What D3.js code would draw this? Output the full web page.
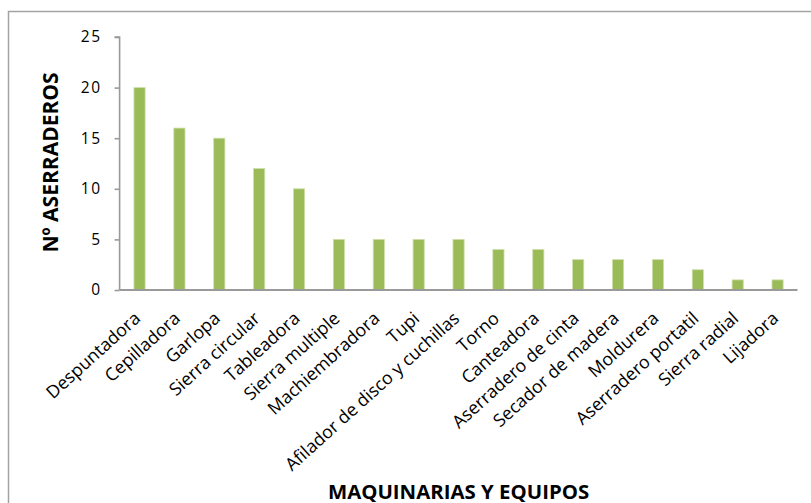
<!DOCTYPE html>
<html>
<head>
<meta charset="utf-8">
<script src="https://cdn.jsdelivr.net/npm/d3@7"></script>
<style>
  body { margin: 0; background: #fff; }
  svg text { font-family: "Open Sans", sans-serif; fill: #000; }
</style>
</head>
<body>
<div id="vis"></div>
<script>
// data
var categories = ["Despuntadora", "Cepilladora", "Garlopa", "Sierra circular", "Tableadora",
  "Sierra multiple", "Machiembradora", "Tupi", "Afilador de disco y cuchillas", "Torno",
  "Canteadora", "Aserradero de cinta", "Secador de madera", "Moldurera",
  "Aserradero portatil", "Sierra radial", "Lijadora"];
var values = [20, 16, 15, 12, 10, 5, 5, 5, 5, 4, 4, 3, 3, 3, 2, 1, 1];
var yTicks = [0, 5, 10, 15, 20, 25];

var W = 811, H = 503;
var margin = {top: 37, right: 13.5, bottom: 213, left: 119.6};
var width = W - margin.left - margin.right,
    height = H - margin.top - margin.bottom;

var svg = d3.select("#vis").append("svg")
    .attr("width", W)
    .attr("height", H);

// outer chart frame (runs off the bottom and right)
svg.append("rect")
    .attr("x", 8.5).attr("y", 11.5)
    .attr("width", 900).attr("height", 600)
    .attr("fill", "none")
    .attr("stroke", "#a3a3a3")
    .attr("stroke-width", 1.5);

var g = svg.append("g")
    .attr("transform", "translate(" + margin.left + "," + margin.top + ")");

var x = d3.scaleBand()
    .domain(categories)
    .range([0, width])
    .paddingInner(0.72)
    .paddingOuter(0.36);

var y = d3.scaleLinear()
    .domain([0, 25])
    .range([height, 0]);

// bars
g.selectAll("rect.bar")
  .data(values)
  .enter().append("rect")
    .attr("class", "bar")
    .attr("x", (d, i) => x(categories[i]))
    .attr("y", d => y(d))
    .attr("width", x.bandwidth())
    .attr("height", d => height - y(d))
    .attr("fill", "#9bbb59")
    .attr("stroke", "#cddfa8")
    .attr("stroke-width", 0.8);

// y axis
var yAxis = g.append("g")
    .call(d3.axisLeft(y).tickValues(yTicks).tickSize(5).tickPadding(13));
yAxis.select(".domain").attr("stroke", "#9a9a9a").attr("stroke-width", 1.6)
    .attr("d", "M-5," + y(25) + "H0V" + height);
yAxis.selectAll(".tick line").attr("stroke", "#9a9a9a").attr("stroke-width", 1.6);
yAxis.selectAll(".tick text")
    .style("font-family", "'Open Sans', sans-serif")
    .style("font-size", "15.5px")
    .style("letter-spacing", "1.5px")
    .attr("fill", "#000");

// x axis line
g.append("line")
    .attr("x1", 0).attr("x2", width)
    .attr("y1", height).attr("y2", height)
    .attr("stroke", "#9a9a9a")
    .attr("stroke-width", 2);

// rotated category labels
g.selectAll("text.cat")
  .data(categories)
  .enter().append("text")
    .attr("class", "cat")
    .attr("text-anchor", "end")
    .attr("transform", d => "translate(" + (x(d) + x.bandwidth() / 2 + 2) + "," + (height + 30) + ") rotate(-42)")
    .style("font-size", "17.8px")
    .text(d => d);

// axis titles
svg.append("text")
    .attr("transform", "translate(58," + (margin.top + height / 2 - 1) + ") rotate(-90)")
    .attr("text-anchor", "middle")
    .style("font-size", "21px")
    .style("font-weight", "bold")
    .text("Nº ASERRADEROS");

svg.append("text")
    .attr("x", margin.left + width / 2)
    .attr("y", 498.5)
    .attr("text-anchor", "middle")
    .style("font-size", "20.4px")
    .style("font-weight", "bold")
    .text("MAQUINARIAS Y EQUIPOS");
</script>
</body>
</html>
